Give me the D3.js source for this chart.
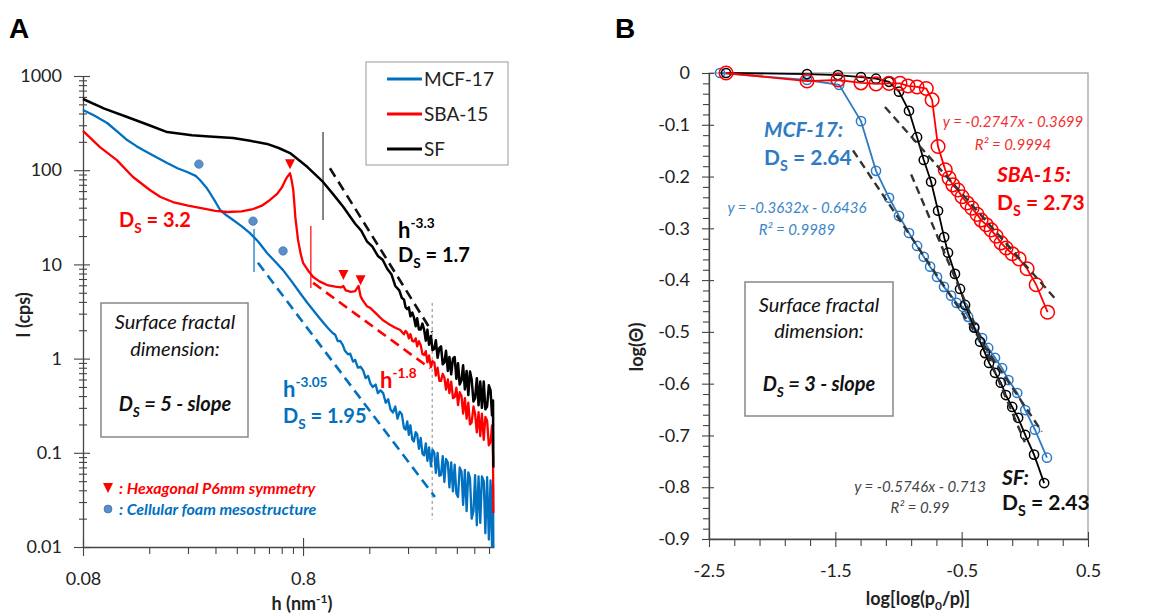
<!DOCTYPE html>
<html>
<head>
<meta charset="utf-8">
<script src="https://cdn.jsdelivr.net/npm/d3@7"></script>
<style>
body { margin: 0; background: #fff; }
svg { font-family: Lato, "Open Sans", sans-serif; }
</style>
</head>
<body>
<script>
var width = 1158, height = 616;

// ---- Panel A: SAXS intensity, [h (nm-1), I (cps)] ----
var mcfCurve = [[0.08,436],[0.09,380],[0.103,317],[0.115,255],[0.127,209],[0.14,180],[0.15,164],[0.17,140],[0.193,119],[0.215,105],[0.238,95.7],[0.26,87],[0.272,78.7],[0.29,66],[0.302,57.3],[0.32,46],[0.336,37.8],[0.36,33],[0.385,29.6],[0.42,25.5],[0.459,21.5],[0.5,17.5],[0.549,13.2],[0.6,10.6],[0.649,8.7],[0.71,6.6],[0.775,4.97],[0.838,3.89],[0.95,2.7],[1.03,2.15],[1.09,1.87],
  [1.12,1.79],[1.15,1.53],[1.18,1.54],[1.21,1.41],[1.24,1.21],[1.28,1.11],[1.31,1.13],[1.35,0.93],[1.38,0.97],[1.42,0.80],[1.46,0.82],[1.5,0.75],[1.54,0.62],[1.58,0.655],[1.62,0.54],[1.66,0.50],[1.71,0.53],[1.75,0.43],[1.8,0.46],[1.85,0.43],[1.9,0.34],[1.95,0.37],[2.0,0.287],[2.05,0.268],[2.1,0.31],[2.15,0.23],[2.2,0.274],[2.25,0.256],
  [2.3,0.184],[2.34,0.176],[2.38,0.215],[2.42,0.155],[2.46,0.196],[2.51,0.138],[2.55,0.132],[2.6,0.166],[2.64,0.158],[2.69,0.11],[2.74,0.144],[2.79,0.098],[2.84,0.094],[2.89,0.126],[2.94,0.082],[2.99,0.114],[3.05,0.072],[3.1,0.108],[3.16,0.1],[3.21,0.061],[3.27,0.1],[3.33,0.057],[3.39,0.058],[3.45,0.092],[3.51,0.049],[3.57,0.086],[3.64,0.079],[3.7,0.043],[3.77,0.079],[3.84,0.039],[3.91,0.075],[3.98,0.037],[4.05,0.034],[4.12,0.07],[4.2,0.063],[4.27,0.028],[4.35,0.066],[4.43,0.024],[4.51,0.062],[4.59,0.054],[4.67,0.02],[4.76,0.024],[4.84,0.058],[4.93,0.017],[5.02,0.056],[5.11,0.018],[5.2,0.056],[5.3,0.05],[5.39,0.014],[5.49,0.055],[5.59,0.012],[5.69,0.051],[5.78,0.01],[5.84,0.046],[5.86,0.01]];

var sbaCurve = [[0.08,261],[0.0955,176],[0.114,128],[0.135,84.7],[0.161,61.6],[0.18,52],[0.205,45.9],[0.24,42],[0.272,39.7],[0.32,37],[0.362,36],[0.42,36.5],[0.474,38.7],[0.52,42],[0.566,48.3],[0.61,56],[0.642,66],[0.665,78],[0.676,84],[0.698,93],[0.71,78],[0.722,62],[0.73,45],[0.738,31.8],[0.759,18.2],[0.78,13],[0.8,10.4],[0.85,8.4],[0.889,7.35],[0.95,6.6],[1.03,6.04],[1.12,5.8],[1.19,5.7],[1.22,5.9],[1.25,5.3],[1.32,5.1],[1.38,5.2],[1.43,5.9],[1.46,4.6],[1.49,4.2],[1.56,3.6],[1.62,3.44],[1.72,3.0],[1.84,2.57],[1.95,2.35],[2.08,2.15],[2.21,2.01],
  [2.3,1.81],[2.34,1.97],[2.38,1.87],[2.42,1.64],[2.46,1.82],[2.51,1.54],[2.55,1.52],[2.6,1.64],[2.64,1.35],[2.69,1.53],[2.74,1.39],[2.79,1.12],[2.84,1.09],[2.89,1.2],[2.94,0.91],[2.99,1.08],[3.05,0.81],[3.1,0.94],[3.16,0.91],[3.21,0.66],[3.27,0.80],[3.33,0.58],[3.39,0.58],[3.45,0.69],[3.51,0.63],[3.57,0.47],[3.64,0.60],[3.7,0.43],[3.77,0.57],[3.84,0.38],[3.91,0.39],[3.98,0.49],[4.05,0.32],[4.12,0.44],[4.2,0.40],[4.27,0.26],[4.35,0.38],[4.43,0.23],[4.51,0.34],[4.59,0.20],[4.67,0.21],[4.76,0.31],[4.84,0.26],[4.93,0.165],[5.02,0.27],[5.11,0.15],[5.2,0.26],[5.3,0.137],[5.39,0.24],[5.49,0.22],[5.59,0.12],[5.69,0.13],[5.78,0.195],[5.84,0.09],[5.86,0.023]];

var sfCurve = [[0.08,570],[0.1,450],[0.127,367],[0.16,300],[0.193,254],[0.25,235],[0.3,228],[0.385,220],[0.46,205],[0.549,190],[0.62,172],[0.698,152],[0.76,130],[0.838,108],[0.986,75],[1.1,55],[1.22,40.6],[1.38,27],[1.47,22.8],[1.56,17.6],[1.65,15.5],[1.75,12.3],[1.84,11.2],[1.93,9.0],[2.02,7.8],[2.1,5.9],[2.19,5.3],[2.25,4.4],
  [2.3,4.24],[2.34,3.49],[2.38,3.36],[2.42,3.51],[2.46,2.81],[2.51,3.08],[2.55,2.76],[2.6,2.2],[2.64,2.68],[2.69,2.04],[2.74,2.04],[2.79,2.35],[2.84,2.03],[2.89,1.55],[2.94,2.03],[2.99,1.40],[3.05,1.74],[3.1,1.23],[3.16,1.27],[3.21,1.57],[3.27,1.02],[3.33,1.29],[3.39,1.35],[3.45,0.87],[3.51,0.91],[3.57,1.21],[3.64,0.74],[3.7,1.04],[3.77,0.68],[3.84,1.0],[3.91,1.04],[3.98,0.61],[4.05,0.89],[4.12,0.53],[4.2,0.59],[4.27,0.85],[4.35,0.47],[4.43,0.74],[4.51,0.41],[4.59,0.73],[4.67,0.60],[4.76,0.35],[4.84,0.38],[4.93,0.62],[5.02,0.32],[5.11,0.57],[5.2,0.30],[5.3,0.57],[5.39,0.29],[5.49,0.31],[5.59,0.52],[5.69,0.46],[5.78,0.25],[5.84,0.36],[5.86,0.07]];

// power-law guide lines (dashed) and range markers
var mcfSlopeLine = [[0.499,10.4],[3.18,0.034]];
var sbaSlopeLine = [[0.889,6.36],[3.02,0.79]];
var sfSlopeLine = [[1.06,105],[3.09,1.91]];
var rangeMarks = [
  {h: 0.479, lo: 8.3, hi: 23.7, color: "#0070c0"},
  {h: 0.868, lo: 5.6, hi: 25.6, color: "#ff0000"},
  {h: 0.986, lo: 29.6, hi: 254, color: "#333"}
];
var cutoffH = 3.09;
var foamDots = [[0.269,116],[0.474,28.8],[0.649,13.9]];
var hexPeaks = [[0.698,116],[1.22,7.7],[1.46,6.8]];

var xTicksA = [0.08, 0.8];
var xTickLabelsA = ["0.08", "0.8"];
var yTicksA = [0.01, 0.1, 1, 10, 100, 1000];
var yTickLabelsA = ["0.01", "0.1", "1", "10", "100", "1000"];
var seriesNames = ["MCF-17", "SBA-15", "SF"];

// ---- Panel B: FHH plot, [log(log(p0/p)), log(theta)] ----
var mcfIso = [[-2.413,0],[-1.724,-0.0135],[-1.47,-0.023],[-1.297,-0.093],[-1.178,-0.189],[-1.075,-0.241],[-0.996,-0.276],[-0.917,-0.309],[-0.853,-0.334],[-0.80,-0.355],[-0.75,-0.374],[-0.695,-0.394],[-0.64,-0.413],[-0.584,-0.43],[-0.54,-0.444],[-0.489,-0.452],[-0.449,-0.471],[-0.402,-0.49],[-0.338,-0.512],[-0.29,-0.531],[-0.236,-0.55],[-0.18,-0.57],[-0.13,-0.593],[-0.06,-0.618],[0.003,-0.651],[0.08,-0.689],[0.175,-0.743]];
var sfIso = [[-2.365,0],[-1.724,-0.002],[-1.479,-0.004],[-1.297,-0.008],[-1.178,-0.011],[-1.075,-0.017],[-0.996,-0.036],[-0.917,-0.073],[-0.853,-0.124],[-0.80,-0.168],[-0.742,-0.21],[-0.687,-0.266],[-0.639,-0.317],[-0.608,-0.347],[-0.553,-0.388],[-0.513,-0.417],[-0.473,-0.448],[-0.40,-0.492],[-0.354,-0.519],[-0.315,-0.541],[-0.283,-0.56],[-0.236,-0.579],[-0.19,-0.598],[-0.15,-0.622],[-0.10,-0.645],[-0.053,-0.666],[0.003,-0.699],[0.073,-0.737],[0.153,-0.792]];
var sbaIso = [[-2.365,0],[-1.724,-0.0155],[-1.479,-0.0135],[-1.297,-0.019],[-1.178,-0.021],[-1.075,-0.02],[-0.988,-0.02],[-0.925,-0.025],[-0.853,-0.027],[-0.78,-0.03],[-0.734,-0.052],[-0.687,-0.142],[-0.63,-0.187],[-0.6,-0.203],[-0.57,-0.216],[-0.53,-0.226],[-0.497,-0.239],[-0.457,-0.251],[-0.418,-0.261],[-0.378,-0.273],[-0.346,-0.284],[-0.306,-0.293],[-0.267,-0.303],[-0.227,-0.315],[-0.188,-0.328],[-0.148,-0.338],[-0.10,-0.349],[-0.045,-0.359],[0.018,-0.378],[0.09,-0.409],[0.18,-0.462]];

// linear fits: slope, intercept, x range
var fitSlopes = [-0.3632, -0.2747, -0.5746];
var fitIntercepts = [-0.6436, -0.3699, -0.713];
var fitRanges = [[-1.36, 0.135], [-1.107, 0.255], [-0.90, 0.0]];

var xTicksB = [-2.5, -1.5, -0.5, 0.5];
var xTickLabelsB = ["-2.5", "-1.5", "-0.5", "0.5"];
var yTicksB = [0, -0.1, -0.2, -0.3, -0.4, -0.5, -0.6, -0.7, -0.8, -0.9];
var yTickLabelsB = ["0", "-0.1", "-0.2", "-0.3", "-0.4", "-0.5", "-0.6", "-0.7", "-0.8", "-0.9"];

var blueA = "#0070c0", blueB = "#2e7bc4", red = "#ff0000";

var svg = d3.select("body").append("svg")
    .attr("width", width)
    .attr("height", height);

// helpers for D_S and h^x labels
function dsLabel(g, x, y, value, color, size, italic, anchor) {
  var t = g.append("text").attr("x", x).attr("y", y)
      .attr("fill", color).attr("font-size", size).attr("font-weight", "bold")
      .attr("font-style", italic ? "italic" : "normal")
      .attr("text-anchor", anchor || "start");
  t.append("tspan").text("D");
  t.append("tspan").attr("font-size", size * 0.68).attr("dy", size * 0.28).text("S");
  t.append("tspan").attr("dy", -size * 0.28).text(" = " + value);
  return t;
}

function powLabel(g, x, y, exp, color, size) {
  var t = g.append("text").attr("x", x).attr("y", y)
      .attr("fill", color).attr("font-size", size).attr("font-weight", "bold");
  t.append("tspan").text("h");
  t.append("tspan").attr("font-size", size * 0.62).attr("dy", -size * 0.45).text(exp);
}

function plainText(g, x, y, str, color, size, opts) {
  opts = opts || {};
  return g.append("text").attr("x", x).attr("y", y).text(str)
      .attr("fill", color).attr("font-size", size)
      .attr("font-weight", opts.bold ? "bold" : "normal")
      .attr("font-style", opts.italic ? "italic" : "normal")
      .attr("text-anchor", opts.anchor || "start");
}

/*
==============================================================
== PANEL A
==============================================================
*/
var xA = d3.scaleLog().domain([0.08, 5.9]).range([83, 494]);
var yA = d3.scaleLog().domain([0.01, 1000]).range([547, 76]);

var gA = svg.append("g");

svg.append("text").attr("x", 9).attr("y", 38).text("A")
    .attr("font-family", "Liberation Sans, Arial, sans-serif")
    .attr("font-size", 28).attr("font-weight", "bold");

var xMinorA = [];
[0.08, 0.8].forEach(function(b) {
  d3.range(2, 10).forEach(function(k) { if (b * k < 5.9) xMinorA.push(b * k); });
});
var yMinorA = [];
[0.01, 0.1, 1, 10, 100].forEach(function(b) {
  d3.range(2, 10).forEach(function(k) { yMinorA.push(b * k); });
});

var axXA = gA.append("g").attr("transform", "translate(0,547)")
    .call(d3.axisBottom(xA).tickValues(xTicksA)
      .tickFormat(function(d, i) { return xTickLabelsA[i]; })
      .tickSize(9).tickSizeOuter(0).tickPadding(16));
axXA.selectAll(".tick line").attr("y1", -9);
gA.append("g").attr("transform", "translate(0,547)")
    .call(d3.axisBottom(xA).tickValues(xMinorA).tickFormat("").tickSize(7).tickSizeOuter(0))
    .select(".domain").remove();

var axYA = gA.append("g").attr("transform", "translate(83,0)")
    .call(d3.axisLeft(yA).tickValues(yTicksA)
      .tickFormat(function(d, i) { return yTickLabelsA[i]; })
      .tickSize(7).tickSizeOuter(0).tickPadding(14));
axYA.selectAll(".tick line").attr("x2", -9).attr("x1", 7);
var minYA = gA.append("g").attr("transform", "translate(83,0)")
    .call(d3.axisLeft(yA).tickValues(yMinorA).tickFormat("").tickSize(4).tickSizeOuter(0));
minYA.select(".domain").remove();
minYA.selectAll(".tick line").attr("x1", 4);

gA.selectAll(".domain").attr("stroke", "#444").attr("stroke-width", 1.3);
gA.selectAll(".tick line").attr("stroke", "#444").attr("stroke-width", 1.1);
gA.selectAll(".tick text").attr("font-size", 18).attr("fill", "#222")
    .attr("font-family", "Lato, sans-serif");

var lineA = d3.line()
    .x(function(d) { return xA(d[0]); })
    .y(function(d) { return yA(d[1]); });

// cut-off marker (dotted)
gA.append("line")
    .attr("x1", xA(cutoffH)).attr("x2", xA(cutoffH))
    .attr("y1", yA(3.9)).attr("y2", yA(0.0196))
    .attr("stroke", "#888").attr("stroke-width", 1).attr("stroke-dasharray", "3,3");

// guide lines
[[mcfSlopeLine, blueA], [sbaSlopeLine, red], [sfSlopeLine, "#111"]].forEach(function(p) {
  gA.append("path").datum(p[0]).attr("d", lineA)
      .attr("fill", "none").attr("stroke", p[1]).attr("stroke-width", 2.6)
      .attr("stroke-dasharray", "10,6");
});

gA.selectAll(".range-mark").data(rangeMarks).enter().append("line")
    .attr("class", "range-mark")
    .attr("x1", function(d) { return xA(d.h); }).attr("x2", function(d) { return xA(d.h); })
    .attr("y1", function(d) { return yA(d.hi); }).attr("y2", function(d) { return yA(d.lo); })
    .attr("stroke", function(d) { return d.color; }).attr("stroke-width", 1.2);

// curves
[[mcfCurve, blueA, 2.3], [sbaCurve, red, 2.3], [sfCurve, "#000", 2.5]].forEach(function(p) {
  gA.append("path").datum(p[0]).attr("d", lineA)
      .attr("fill", "none").attr("stroke", p[1]).attr("stroke-width", p[2])
      .attr("stroke-linejoin", "round");
});

// peak markers
gA.selectAll(".hex").data(hexPeaks).enter().append("path")
    .attr("class", "hex")
    .attr("transform", function(d) { return "translate(" + xA(d[0]) + "," + yA(d[1]) + ")"; })
    .attr("d", "M-5,-5L5,-5L0,5Z").attr("fill", red);
gA.selectAll(".foam").data(foamDots).enter().append("circle")
    .attr("class", "foam")
    .attr("cx", function(d) { return xA(d[0]); }).attr("cy", function(d) { return yA(d[1]); })
    .attr("r", 4.2).attr("fill", "#5b8fc9").attr("stroke", "#3f76b3").attr("stroke-width", 0.8);

// legend
gA.append("rect").attr("x", 366).attr("y", 62).attr("width", 142).attr("height", 103)
    .attr("fill", "#fff").attr("stroke", "#aaa").attr("stroke-width", 1.2);
[blueA, red, "#000"].forEach(function(c, i) {
  var y = 79 + i * 35;
  gA.append("line").attr("x1", 387).attr("x2", 422).attr("y1", y).attr("y2", y)
      .attr("stroke", c).attr("stroke-width", 3);
  plainText(gA, 424, y + 7, seriesNames[i], "#222", 19);
});

// annotations
dsLabel(gA, 119, 227, "3.2", red, 20);
powLabel(gA, 398, 238, "-3.3", "#000", 22);
dsLabel(gA, 398, 262, "1.7", "#000", 20);
powLabel(gA, 283, 397, "-3.05", blueA, 22);
dsLabel(gA, 283, 423, "1.95", blueA, 20);
powLabel(gA, 380, 388, "-1.8", red, 22);

gA.append("rect").attr("x", 101).attr("y", 303).attr("width", 147).attr("height", 134)
    .attr("fill", "#fff").attr("stroke", "#888").attr("stroke-width", 1.5);
plainText(gA, 175, 329, "Surface fractal", "#111", 20, {italic: true, anchor: "middle"});
plainText(gA, 175, 356, "dimension:", "#111", 20, {italic: true, anchor: "middle"});
dsLabel(gA, 175, 411, "5 - slope", "#111", 20, true, "middle");

gA.append("path").attr("transform", "translate(108,488)")
    .attr("d", "M-5,-5L5,-5L0,5Z").attr("fill", red);
plainText(gA, 119, 494, ": Hexagonal P6mm symmetry", red, 16, {bold: true, italic: true});
gA.append("circle").attr("cx", 108).attr("cy", 509).attr("r", 4)
    .attr("fill", "#5b8fc9").attr("stroke", "#3f76b3").attr("stroke-width", 0.8);
plainText(gA, 119, 515, ": Cellular foam mesostructure", blueA, 16, {bold: true, italic: true});

// axis titles
gA.append("text").attr("transform", "translate(30,315) rotate(-90)")
    .attr("text-anchor", "middle").attr("font-size", 18).attr("font-weight", "bold")
    .attr("fill", "#222").text("I (cps)");
var xtA = gA.append("text").attr("x", 302).attr("y", 610)
    .attr("text-anchor", "middle").attr("font-size", 18).attr("font-weight", "bold").attr("fill", "#222");
xtA.append("tspan").text("h (nm");
xtA.append("tspan").attr("font-size", 12).attr("dy", -7).text("-1");
xtA.append("tspan").attr("dy", 7).text(")");

/*
==============================================================
== PANEL B
==============================================================
*/
var xB = d3.scaleLinear().domain([-2.5, 0.5]).range([709, 1088]);
var yB = d3.scaleLinear().domain([-0.9, 0]).range([539, 73]);

var gB = svg.append("g");

svg.append("text").attr("x", 615).attr("y", 38).text("B")
    .attr("font-family", "Liberation Sans, Arial, sans-serif")
    .attr("font-size", 28).attr("font-weight", "bold");

gB.append("rect").attr("x", 709).attr("y", 73).attr("width", 379).attr("height", 466)
    .attr("fill", "none").attr("stroke", "#999").attr("stroke-width", 1.2);

var xMinorB = d3.range(-2.5, 0.51, 0.2).map(function(v) { return Math.round(v * 10) / 10; })
    .filter(function(v) { return xTicksB.indexOf(v) < 0; });
var yMinorB = d3.range(0, -0.901, -0.02).map(function(v) { return Math.round(v * 100) / 100; })
    .filter(function(v) { return Math.round(v * 100) % 10 !== 0; });

var axXB = gB.append("g").attr("transform", "translate(0,539)")
    .call(d3.axisBottom(xB).tickValues(xTicksB)
      .tickFormat(function(d, i) { return xTickLabelsB[i]; })
      .tickSize(8).tickSizeOuter(0).tickPadding(17));
axXB.selectAll(".tick line").attr("y1", -7);
gB.append("g").attr("transform", "translate(0,539)")
    .call(d3.axisBottom(xB).tickValues(xMinorB).tickFormat("").tickSize(7).tickSizeOuter(0))
    .select(".domain").remove();

var axYB = gB.append("g").attr("transform", "translate(709,0)")
    .call(d3.axisLeft(yB).tickValues(yTicksB)
      .tickFormat(function(d, i) { return yTickLabelsB[i]; })
      .tickSize(7).tickSizeOuter(0).tickPadding(12));
axYB.selectAll(".tick line").attr("x1", 5);
gB.append("g").attr("transform", "translate(709,0)")
    .call(d3.axisLeft(yB).tickValues(yMinorB).tickFormat("").tickSize(6).tickSizeOuter(0))
    .select(".domain").remove();

gB.selectAll(".domain").attr("stroke", "#444").attr("stroke-width", 1.3);
gB.selectAll(".tick line").attr("stroke", "#444").attr("stroke-width", 1.1);
gB.selectAll(".tick text").attr("font-size", 18).attr("fill", "#222")
    .attr("font-family", "Lato, sans-serif");

var lineB = d3.line()
    .x(function(d) { return xB(d[0]); })
    .y(function(d) { return yB(d[1]); });

[[mcfIso, blueB, 4.6], [sfIso, "#000", 4.6], [sbaIso, red, 6.8]].forEach(function(p) {
  gB.append("path").datum(p[0]).attr("d", lineB)
      .attr("fill", "none").attr("stroke", p[1]).attr("stroke-width", 1.8);
  gB.append("g").selectAll("circle").data(p[0]).enter().append("circle")
      .attr("cx", function(d) { return xB(d[0]); })
      .attr("cy", function(d) { return yB(d[1]); })
      .attr("r", p[2]).attr("fill", "none").attr("stroke", p[1]).attr("stroke-width", 1.5);
});

fitSlopes.forEach(function(m, i) {
  var r = fitRanges[i];
  gB.append("line")
      .attr("x1", xB(r[0])).attr("y1", yB(m * r[0] + fitIntercepts[i]))
      .attr("x2", xB(r[1])).attr("y2", yB(m * r[1] + fitIntercepts[i]))
      .attr("stroke", "#333").attr("stroke-width", 2.4).attr("stroke-dasharray", "8,5");
});

// annotations
plainText(gB, 764, 137, "MCF-17:", blueB, 21, {bold: true, italic: true});
dsLabel(gB, 764, 165, "2.64", blueB, 21);
plainText(gB, 797, 213, "y = -0.3632x - 0.6436", "#3a86c8", 15, {italic: true, anchor: "middle"});
plainText(gB, 797, 235, "R² = 0.9989", "#3a86c8", 15, {italic: true, anchor: "middle"});

plainText(gB, 1013, 127, "y = -0.2747x - 0.3699", "#f03030", 15, {italic: true, anchor: "middle"});
plainText(gB, 1013, 150, "R² = 0.9994", "#f03030", 15, {italic: true, anchor: "middle"});
plainText(gB, 997, 182, "SBA-15:", red, 21, {bold: true, italic: true});
dsLabel(gB, 997, 210, "2.73", red, 21);

gB.append("rect").attr("x", 745).attr("y", 282).attr("width", 148).attr("height", 134)
    .attr("fill", "#fff").attr("stroke", "#888").attr("stroke-width", 1.5);
plainText(gB, 819, 312, "Surface fractal", "#111", 20, {italic: true, anchor: "middle"});
plainText(gB, 819, 338, "dimension:", "#111", 20, {italic: true, anchor: "middle"});
dsLabel(gB, 819, 391, "3 - slope", "#111", 20, true, "middle");

plainText(gB, 920, 492, "y = -0.5746x - 0.713", "#444", 15, {italic: true, anchor: "middle"});
plainText(gB, 920, 513, "R² = 0.99", "#444", 15, {italic: true, anchor: "middle"});
plainText(gB, 1002, 485, "SF:", "#111", 21, {bold: true, italic: true});
dsLabel(gB, 1002, 510, "2.43", "#111", 21);

// axis titles
gB.append("text").attr("transform", "translate(643,347) rotate(-90)")
    .attr("text-anchor", "middle").attr("font-size", 18).attr("font-weight", "bold")
    .attr("fill", "#222").text("log(Θ)");
var xtB = gB.append("text").attr("x", 918).attr("y", 605)
    .attr("text-anchor", "middle").attr("font-size", 18).attr("font-weight", "bold").attr("fill", "#222");
xtB.append("tspan").text("log[log(p");
xtB.append("tspan").attr("font-size", 12).attr("dy", 5).text("0");
xtB.append("tspan").attr("dy", -5).text("/p)]");
</script>
</body>
</html>
